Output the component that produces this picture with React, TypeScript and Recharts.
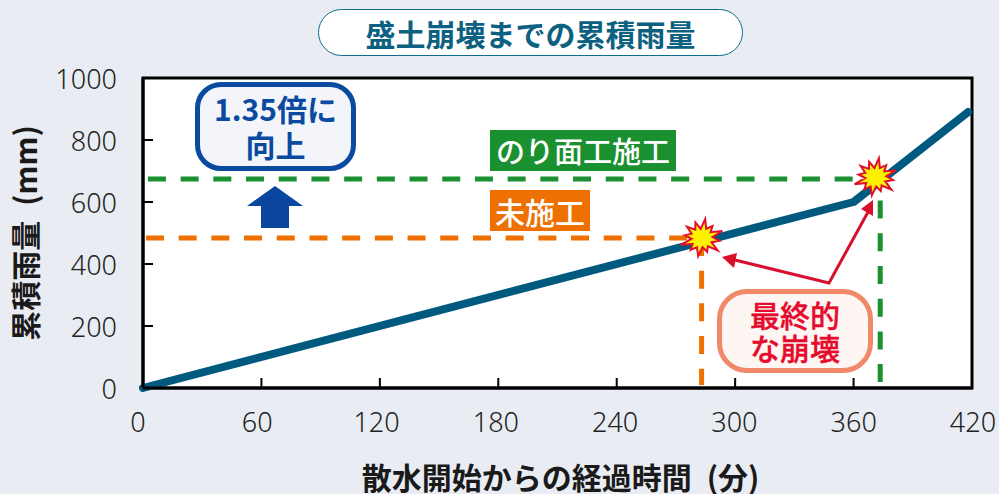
import React from 'react';
import {
  ComposedChart, Line, Scatter, XAxis, YAxis, ReferenceArea, ReferenceLine, Label,
} from 'recharts';

const times = [0, 360, 418];
const rainfall = [0, 600, 890];
const xTicks = [0, 60, 120, 180, 240, 300, 360, 420];
const yTicks = [0, 200, 400, 600, 800, 1000];

// collapse points: untreated slope, then treated slope
const collapseTimes = [283, 371];
const collapseRain = [484, 680];

const untreatedRain = 484;
const treatedRain = 674;
const untreatedTime = 283;
const treatedTime = 373.5;

const curve = times.map((time, i) => ({ time, rain: rainfall[i] }));
const collapses = collapseTimes.map((time, i) => ({ time, rain: collapseRain[i] }));

const JP = '"Noto Sans CJK JP", sans-serif';
const NUM = '"Noto Sans", sans-serif';
const DASH = '18 14.7';

const starRadii = [22, 11, 18, 11, 21, 11, 16, 10, 20, 11, 17, 11, 22, 10, 17, 11, 19, 11, 18, 10, 21, 11, 17, 11];

const Star = (props: any) => {
  const { cx, cy } = props;
  const pts = starRadii
    .map((r, i) => {
      const a = (i / starRadii.length) * Math.PI * 2 - 0.35;
      return `${cx + r * Math.cos(a)},${cy + r * 0.92 * Math.sin(a)}`;
    })
    .join(' ');
  return <polygon points={pts} fill="#fff200" stroke="#e0102c" strokeWidth={2} strokeLinejoin="miter" />;
};

// x labels lean a little left of their ticks, less so toward the right end
const XTick = (props: any) => {
  const { x, y, payload } = props;
  return (
    <text
      x={x - 5 + (payload.value / 420) * 6}
      y={y - 1}
      textAnchor="middle"
      dominantBaseline="hanging"
      fill="#222"
      fontSize={27}
      fontWeight={300}
      fontFamily={NUM}
    >
      {payload.value}
    </text>
  );
};

const pillText: React.CSSProperties = {
  position: 'absolute',
  boxSizing: 'border-box',
  display: 'flex',
  alignItems: 'center',
  justifyContent: 'center',
  textAlign: 'center',
  fontFamily: JP,
};

export default function App() {
  return (
    <div style={{ position: 'absolute', left: 0, top: 0, width: 999, height: 494, background: '#e9ecf2', overflow: 'hidden' }}>
      <ComposedChart
        width={999}
        height={494}
        data={curve}
        margin={{ top: 78, right: 27, bottom: 0, left: 0 }}
      >
        <XAxis
          dataKey="time"
          type="number"
          domain={[0, 420]}
          ticks={xTicks}
          interval={0}
          height={106}
          axisLine={{ stroke: '#000', strokeWidth: 3 }}
          tickLine={{ stroke: '#000', strokeWidth: 2 }}
          tickSize={-10}
          tickMargin={32}
          tick={XTick}
        >
          <Label
            value="散水開始からの経過時間&#8194;(分)"
            position="insideBottom"
            offset={5}
            dx={3}
            fill="#1a1a1a"
            fontSize={30}
            fontWeight={700}
            fontFamily={JP}
          />
        </XAxis>
        <YAxis
          type="number"
          domain={[0, 1000]}
          ticks={yTicks}
          interval={0}
          width={143}
          axisLine={{ stroke: '#000', strokeWidth: 3 }}
          tickLine={{ stroke: '#000', strokeWidth: 2 }}
          tickSize={-10}
          tickMargin={36}
          tick={{ fill: '#222', fontSize: 27, fontFamily: NUM, fontWeight: 300, dy: 1 }}
        >
          <Label
            value="累積雨量&#8194;(mm)"
            angle={-90}
            position="insideLeft"
            offset={26}
            fill="#1a1a1a"
            fontSize={30}
            fontWeight={700}
            fontFamily={JP}
            style={{ textAnchor: 'middle' }}
          />
        </YAxis>

        <ReferenceArea x1={0} x2={420} y1={0} y2={1000} fill="#fff" fillOpacity={1} stroke="#000" strokeWidth={3} />

        <ReferenceLine
          segment={[{ x: 2.5, y: treatedRain }, { x: 371, y: treatedRain }]}
          stroke="#1a9030" strokeWidth={5} strokeDasharray={DASH}
        />
        <ReferenceLine
          segment={[{ x: 1.5, y: untreatedRain }, { x: 283, y: untreatedRain }]}
          stroke="#ee7000" strokeWidth={5} strokeDasharray={DASH}
        />
        <ReferenceLine
          segment={[{ x: untreatedTime, y: untreatedRain }, { x: untreatedTime, y: 10 }]}
          stroke="#ee7000" strokeWidth={5} strokeDasharray={DASH}
        />
        <ReferenceLine
          segment={[{ x: treatedTime, y: 710 }, { x: treatedTime, y: 18 }]}
          stroke="#1a9030" strokeWidth={5} strokeDasharray={DASH}
        />

        <Line
          dataKey="rain"
          type="linear"
          stroke="#005a80"
          strokeWidth={8}
          strokeLinecap="round"
          strokeLinejoin="round"
          dot={false}
          activeDot={false}
          isAnimationActive={false}
        />
        <Scatter data={collapses} dataKey="rain" shape={Star} isAnimationActive={false} />
      </ComposedChart>

      {/* annotation arrows */}
      <svg width={999} height={494} style={{ position: 'absolute', left: 0, top: 0 }}>
        <polygon points="275,186 303,206 289,206 289,228 261,228 261,206 247,206" fill="#0a469e" />
        <polyline points="735,260 829,283 868,212" fill="none" stroke="#d9102c" strokeWidth={3} />
        <polygon points="722,257 737,253 734,268" fill="#d9102c" />
        <polygon points="873,200 873,216 861,209" fill="#d9102c" />
      </svg>

      <div style={{ ...pillText, left: 318, top: 9, width: 425, height: 47, background: '#fff', border: '1.5px solid #0f6b8c', borderRadius: 24, color: '#0c6080', fontSize: 30, fontWeight: 700, lineHeight: 1 }}>
        盛土崩壊までの累積雨量
      </div>
      <div style={{ ...pillText, left: 195, top: 82, width: 161, height: 89, background: '#f3f5fb', border: '5px solid #0a4a9f', borderRadius: 26, color: '#0a4a9f', fontSize: 30, fontWeight: 700, lineHeight: '36px', paddingBottom: 2 }}>
        <span>1.35倍に<br />向上</span>
      </div>
      <div style={{ ...pillText, left: 490, top: 130, width: 186, height: 41, background: '#1a9030', color: '#fff', fontSize: 29, fontWeight: 500, lineHeight: 1 }}>
        のり面工施工
      </div>
      <div style={{ ...pillText, left: 490, top: 190, width: 100, height: 41, background: '#ee7000', color: '#fff', fontSize: 30, fontWeight: 500, lineHeight: 1 }}>
        未施工
      </div>
      <div style={{ ...pillText, left: 717, top: 289, width: 156, height: 84, background: '#fef6f2', border: '5px solid #f0896a', borderRadius: 30, color: '#e60a2c', fontSize: 30, fontWeight: 500, lineHeight: '33px', WebkitTextStroke: '0.4px #e60a2c' }}>
        <span>最終的<br />な崩壊</span>
      </div>
    </div>
  );
}
